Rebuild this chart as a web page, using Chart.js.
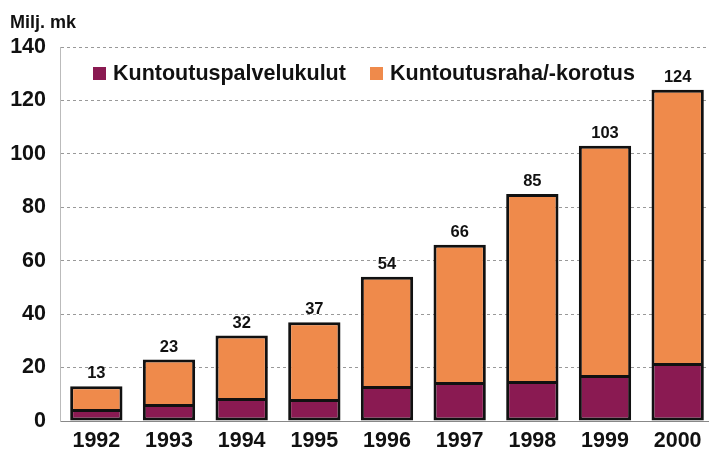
<!DOCTYPE html>
<html>
<head>
<meta charset="utf-8">
<script src="https://cdn.jsdelivr.net/npm/chart.js@4.4.1/dist/chart.umd.min.js"></script>
<style>
  html, body { margin: 0; padding: 0; background: #fff; overflow: hidden; }
  #wrap { width: 714px; height: 451px; }
</style>
</head>
<body>
<div id="wrap"><canvas id="myChart" width="714" height="451"></canvas></div>
<script>
// data
const years = ['1992', '1993', '1994', '1995', '1996', '1997', '1998', '1999', '2000']
const totals = [13, 23, 32, 37, 54, 66, 85, 103, 124]
const palvelut = [4.1, 6, 8.2, 7.9, 12.7, 14.2, 14.6, 16.8, 21.3]      // Kuntoutuspalvelukulut
const raha = totals.map((t, i) => +(t - palvelut[i]).toFixed(1))   // Kuntoutusraha/-korotus
const yTicks = [0, 20, 40, 60, 80, 100, 120, 140]

const purple = '#8a1a52'
const orange = '#ef8a4b'
const font = 'Arial, "Liberation Sans", sans-serif'

// totals above the bars
const totalLabels = {
    id: 'totalLabels',
    afterDatasetsDraw(chart) {
        const ctx = chart.ctx
        const meta = chart.getDatasetMeta(1)
        ctx.save()
        ctx.font = 'bold 16.5px ' + font
        ctx.fillStyle = '#111'
        ctx.textAlign = 'center'
        ctx.textBaseline = 'alphabetic'
        meta.data.forEach((bar, i) => {
            ctx.fillText(totals[i], bar.x, bar.y - 8)
        })
        ctx.restore()
    }
}

// legend drawn inside the plot area
const innerLegend = {
    id: 'innerLegend',
    afterDraw(chart) {
        const ctx = chart.ctx
        const items = [
            { text: 'Kuntoutuspalvelukulut', color: purple, x: 93 },
            { text: 'Kuntoutusraha/-korotus', color: orange, x: 370 }
        ]
        ctx.save()
        ctx.font = 'bold 21.5px ' + font
        ctx.textBaseline = 'middle'
        items.forEach(it => {
            ctx.fillStyle = it.color
            ctx.fillRect(it.x, 67, 13, 13)
            ctx.fillStyle = '#111'
            ctx.fillText(it.text, it.x + 20, 74)
        })
        ctx.restore()
    }
}

new Chart(document.getElementById('myChart'), {
    type: 'bar',
    data: {
        labels: years,
        datasets: [
            {
                label: 'Kuntoutuspalvelukulut',
                data: palvelut,
                backgroundColor: purple,
                borderColor: '#111',
                borderWidth: { left: 3, right: 3, bottom: 3, top: 2 },
                borderSkipped: false,
                categoryPercentage: 1,
                barPercentage: 0.72
            },
            {
                label: 'Kuntoutusraha/-korotus',
                data: raha,
                backgroundColor: orange,
                borderColor: '#111',
                borderWidth: { left: 3, right: 3, bottom: 1, top: 3 },
                borderSkipped: false,
                categoryPercentage: 1,
                barPercentage: 0.72
            }
        ]
    },
    options: {
        responsive: false,
        maintainAspectRatio: false,
        animation: false,
        layout: { padding: { left: 10, right: 0, top: 0, bottom: 0 } },
        plugins: {
            legend: { display: false },
            tooltip: { enabled: false },
            title: {
                display: true,
                text: 'Milj. mk',
                align: 'start',
                color: '#111',
                font: { family: font, size: 18, weight: 'bold', lineHeight: 1.2 },
                padding: { top: 12, bottom: 13.4 }
            }
        },
        scales: {
            x: {
                stacked: true,
                grid: { display: false, drawTicks: false },
                border: { color: '#888', width: 1 },
                ticks: {
                    color: '#111',
                    font: { family: font, size: 21.5, weight: 'bold', lineHeight: 1 },
                    padding: 9,
                    maxRotation: 0
                },
                afterFit(axis) { axis.height = 30 }
            },
            y: {
                stacked: true,
                min: 0,
                max: 140,
                afterBuildTicks(axis) {
                    axis.ticks = yTicks.map(v => ({ value: v }))
                },
                grid: { color: '#999', lineWidth: 1, drawTicks: false },
                border: { color: '#bbb', dash: [3, 3] },
                ticks: {
                    color: '#111',
                    font: { family: font, size: 21.5, weight: 'bold', lineHeight: 1 },
                    padding: 14
                },
                afterFit(axis) { axis.width = 50 }
            }
        }
    },
    plugins: [totalLabels, innerLegend]
})
</script>
</body>
</html>
